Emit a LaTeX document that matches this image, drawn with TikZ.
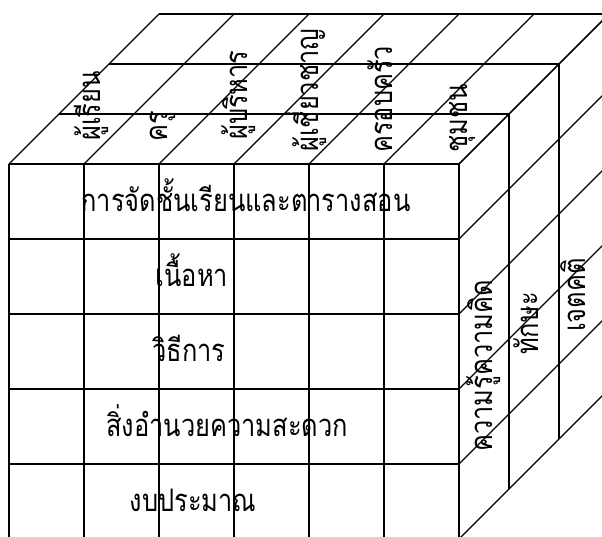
\documentclass[tikz,border=0pt]{standalone}
\usepackage{fontspec}
\newfontfamily\thaifont[Script=Thai,FakeStretch=0.82]{Loma}
\begin{document}
\begin{tikzpicture}[x=1pt,y=-1pt,
  grid/.style={line width=1.1pt, black},
  lbl/.style={font=\thaifont\fontsize{31}{36}\selectfont, inner sep=0pt},
  vlbl/.style={lbl, rotate=90, anchor=base west}]
\useasboundingbox (0,0) rectangle (602,536);
\clip (0,0) rectangle (602,536);
% front face
\foreach \i in {0,...,6} \draw[grid] (9+75*\i,164) -- (9+75*\i,539);
\foreach \j in {0,...,5} \draw[grid] (9,164+75*\j) -- (459,164+75*\j);
% top face
\foreach \k in {1,2,3} \draw[grid] (9+50*\k,164-50*\k) -- (459+50*\k,164-50*\k);
\foreach \i in {0,...,6} \draw[grid] (9+75*\i,164) -- (159+75*\i,14);
% right face
\foreach \k in {1,2,3} \draw[grid] (459+50*\k,164-50*\k) -- (459+50*\k,539-50*\k);
\foreach \j in {0,...,5} \draw[grid] (459,164+75*\j) -- (609,14+75*\j);
% front labels
\node[lbl, anchor=base] (r1) at (246,211) {การจัดชั้นเรียนและตารางสอน};
\node[lbl, anchor=base] (r2) at (192,286) {เนื้อหา};
\node[lbl, anchor=base] (r3) at (189,361) {วิธีการ};
\node[lbl, anchor=base] (r4) at (227,436) {สิ่งอำนวยความสะดวก};
\node[lbl, anchor=base] (r5) at (193,511) {งบประมาณ};
% top labels
\node[vlbl] (c1) at (100,141) {ผู้เรียน};
\node[vlbl] (c2) at (167,142) {ครู};
\node[vlbl] (c3) at (247,140) {ผู้บริหาร};
\node[vlbl] (c4) at (318,152) {ผู้เชี่ยวชาญ};
\node[vlbl] (c5) at (392,153) {ครอบครัว};
\node[vlbl] (c6) at (467,153) {ชุมชน};
% right labels
\node[vlbl] (d1) at (492,452) {ความรู้ความคิด};
\node[vlbl] (d2) at (538,355) {ทักษะ};
\node[vlbl] (d3) at (585,332) {เจตคติ};
\end{tikzpicture}
\end{document}
